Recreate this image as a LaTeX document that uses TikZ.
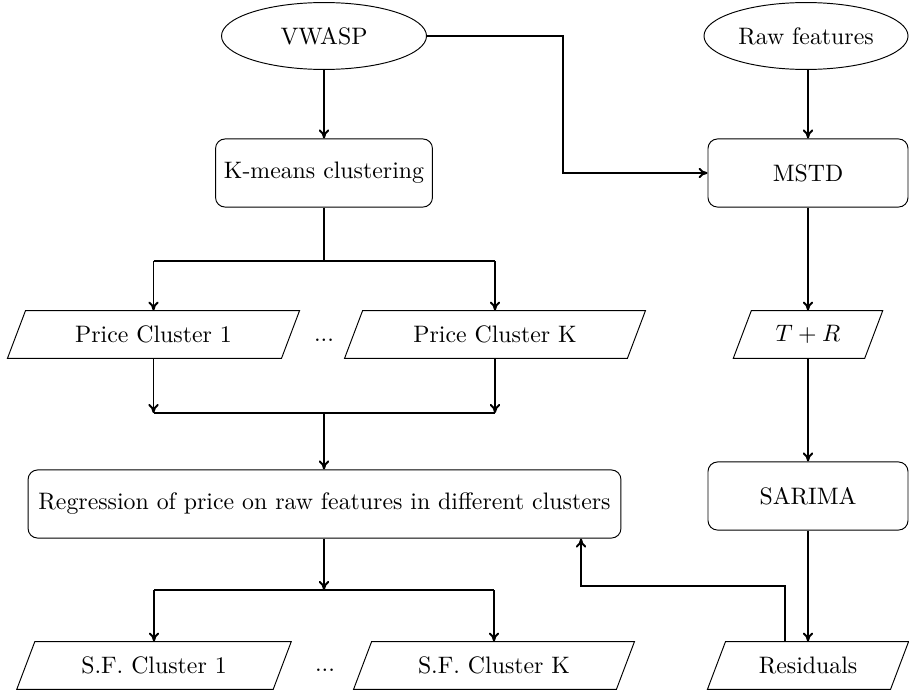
\documentclass[tikz,border=0pt]{standalone}
\usetikzlibrary{shapes.geometric,calc,arrows.meta}
\begin{document}
\begin{tikzpicture}[x=0.42pt,y=-0.42pt,
  conn/.style={line width=0.8pt},
  arr/.style={conn,-{To[length=3.8pt,width=4.4pt]}},
  ell/.style={draw,ellipse,inner sep=0pt,minimum height=28.1pt},
  rbox/.style={draw,rounded corners=4pt,inner sep=0pt,minimum height=28.6pt},
  pbox/.style={inner sep=0pt,minimum height=19.7pt}]
\useasboundingbox (0,0) rectangle (909,694);
\node[ell,minimum width=86.1pt] (vw) at (324,36) {VWASP};
\node[ell,minimum width=85.7pt] (rf) at (806,36) {Raw features};
\node[rbox,minimum width=91.1pt] (km) at (324,173) {K-means clustering};
\node[rbox,minimum width=84pt] (ms) at (808,173) {MSTD};
\node[pbox,minimum width=114.7pt] (pc1) at (153.5,334.5) {Price Cluster 1};
\node[inner sep=0pt] (d1) at (324,340) {...};
\node[pbox,minimum width=118.4pt] (pck) at (495,334.5) {Price Cluster K};
\node[pbox,minimum width=54.8pt] (tr) at (808,334.5) {$T+R$};
\node[rbox,minimum width=249pt] (rg) at (324.5,504) {Regression of price on raw features in different clusters};
\node[rbox,minimum width=84pt] (sa) at (808,496) {SARIMA};
\node[pbox,minimum width=107.3pt] (sf1) at (154,665.5) {S.F. Cluster 1};
\node[inner sep=0pt] (d2) at (325,670) {...};
\node[pbox,minimum width=110pt] (sfk) at (494,665.5) {S.F. Cluster K};
\node[pbox,minimum width=76.5pt] (res) at (808,665.5) {Residuals};
\foreach \n in {pc1,pck,tr,sf1,sfk,res}
  \draw ([xshift=-3.8pt]\n.south west) -- ([xshift=3.8pt]\n.north west) -- ([xshift=3.8pt]\n.north east) -- ([xshift=-3.8pt]\n.south east) -- cycle;
% connectors
\draw[arr] (vw.south) -- (km.north);
\draw[arr] (ms.north |- rf.south) -- (ms.north);
\coordinate (bend) at (563,0);
\draw[arr] (vw.east) -- (vw.east -| bend) |- (ms.west);
\coordinate (j1) at (324,261);
\draw[conn] (km.south) -- (j1);
\draw[conn] (pc1.north |- j1) -- (pck.north |- j1);
\draw[arr] (pc1.north |- j1) -- (pc1.north);
\draw[arr] (pck.north |- j1) -- (pck.north);
\coordinate (j2) at (324,413);
\draw[arr] (pc1.south) -- (pc1.south |- j2);
\draw[arr] (pck.south) -- (pck.south |- j2);
\draw[conn] (pc1.south |- j2) -- (pck.south |- j2);
\draw[arr] (j2) -- (j2 |- rg.north);
\coordinate (j3) at (324,590);
\draw[arr] (j3 |- rg.south) -- (j3);
\draw[conn] (sf1.north |- j3) -- (sfk.north |- j3);
\draw[arr] (sf1.north |- j3) -- (sf1.north);
\draw[arr] (sfk.north |- j3) -- (sfk.north);
\draw[arr] (ms.south) -- (tr.north);
\draw[arr] (tr.south) -- (sa.north);
\draw[arr] (sa.south) -- (res.north);
\coordinate (fb1) at (785,586);
\coordinate (fb2) at (581,586);
\draw[arr] (res.north -| fb1) -- (fb1) -- (fb2) -- (fb2 |- rg.south);
\end{tikzpicture}
\end{document}
